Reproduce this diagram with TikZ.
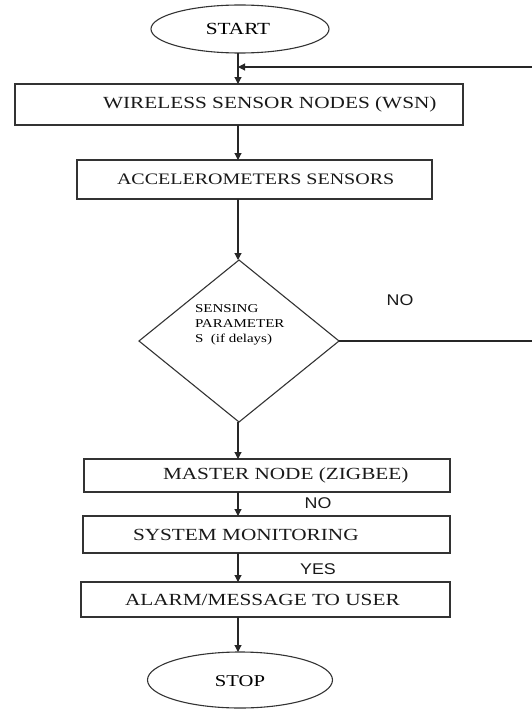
\documentclass[tikz,border=0pt]{standalone}
\usepackage{fontspec}
\usetikzlibrary{shapes.geometric,arrows.meta}
\newfontfamily\boxfont[FakeStretch=1.25]{Liberation Serif}
\newfontfamily\tagfont[FakeStretch=1.15]{Liberation Sans}
\begin{document}
\begin{tikzpicture}[x=1pt,y=-1pt,
  line width=1.1pt,
  every node/.style={inner sep=0pt, outer sep=0pt},
  procbox/.style={draw=black!80, rectangle},
  terminal/.style={draw=black!80, ellipse},
  decision/.style={draw=black!80, diamond},
  boxtext/.style={font=\boxfont\fontsize{17}{19}\selectfont, anchor=west, text=black!90},
  tagtext/.style={font=\tagfont\fontsize{15.5}{17}\selectfont, text=black!90},
  arr/.style={draw=black!85, -{Triangle[length=7pt,width=7pt]}},
  flow/.style={draw=black!85}]
\useasboundingbox (0,0) rectangle (531,709);

% terminals
\node[terminal, minimum width=178pt, minimum height=48pt] (start) at (240,29) {};
\node[font=\boxfont\fontsize{17}{19}\selectfont] (starttxt) at (238,29) {START};
\node[terminal, minimum width=185pt, minimum height=56pt] (stop) at (240,680) {};
\node[font=\boxfont\fontsize{16.5}{18}\selectfont] (stoptxt) at (240,681) {STOP};

% process boxes
\node[procbox, minimum width=448pt, minimum height=41pt] (wsn) at (239,104.5) {};
\node[boxtext] (wsntxt) at (103,104.5) {WIRELESS SENSOR NODES (WSN)};
\node[procbox, minimum width=355pt, minimum height=39pt] (acc) at (254.5,179.5) {};
\node[boxtext, font=\boxfont\fontsize{16}{18}\selectfont] (acctxt) at (117,179.5) {ACCELEROMETERS SENSORS};
\node[procbox, minimum width=366pt, minimum height=33pt] (master) at (267,475.5) {};
\node[boxtext] (mastertxt) at (163,475.5) {MASTER NODE (ZIGBEE)};
\node[procbox, minimum width=367pt, minimum height=37pt] (monitor) at (266.5,534.5) {};
\node[boxtext] (monitortxt) at (133,534.5) {SYSTEM MONITORING};
\node[procbox, minimum width=369pt, minimum height=35pt] (alarm) at (265.5,599.5) {};
\node[boxtext] (alarmtxt) at (125,599.5) {ALARM/MESSAGE TO USER};

% decision
\node[decision, minimum width=200pt, minimum height=162pt] (dec) at (239,341) {};
\node[font=\boxfont\fontsize{12}{15}\selectfont, align=left, anchor=west] (dectxt) at (195,325)
  {SENSING\\PARAMETER\\S\ \ (if delays)};

% branch labels
\node[tagtext] (nofb) at (400,300) {NO};
\node[tagtext] (nomon) at (318,503) {NO};
\node[tagtext] (yesal) at (318,569) {YES};

% main spine
\coordinate (spine) at (238,0);
\draw[arr] (start.south -| spine) -- (wsn.north -| spine);
\draw[arr] (wsn.south -| spine) -- (acc.north -| spine);
\draw[arr] (acc.south -| spine) -- (dec.north -| spine);
\draw[arr] (dec.south -| spine) -- (master.north -| spine);
\draw[arr] (master.south -| spine) -- (monitor.north -| spine);
\draw[arr] (monitor.south -| spine) -- (alarm.north -| spine);
\draw[arr] (alarm.south -| spine) -- (stop.north -| spine);

% feedback loop back to the sensor nodes
\coordinate (fbbot) at (534,341);
\coordinate (fbtop) at (534,67);
\draw[arr] (dec.east) -- (fbbot) -- (fbtop) -- (spine |- fbtop);
\end{tikzpicture}
\end{document}
